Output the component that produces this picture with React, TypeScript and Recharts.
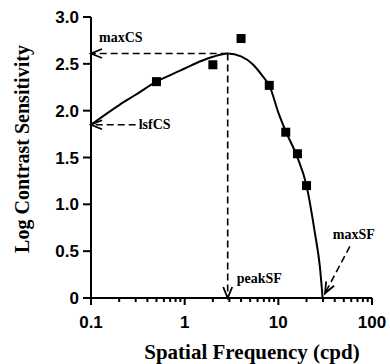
import React from 'react';
import {
  ComposedChart, Line, Scatter, XAxis, YAxis, ReferenceLine, ReferenceDot, Label,
} from 'recharts';

// ---- data ----
// measured points (spatial frequency, log contrast sensitivity)
const pointSF = [0.5, 2, 4, 8, 12, 16, 20];
const pointCS = [2.31, 2.49, 2.77, 2.27, 1.77, 1.54, 1.2];

// fitted curve
const curveSF = [0.1, 0.2, 0.3, 0.5, 0.7, 1, 1.5, 2, 2.88, 4, 5.4, 6.9, 8, 10, 12, 16, 20, 24.6, 27.8, 29.7];
const curveCS = [1.85, 2.06, 2.17, 2.31, 2.38, 2.45, 2.53, 2.575, 2.61, 2.58, 2.49, 2.36, 2.27, 1.98, 1.78, 1.5, 1.2, 0.69, 0.33, 0];

// key parameters
const peakSF = 2.88;
const maxCS = 2.61;
const lsfCS = 1.85;
const maxSF = 29.7;
const lsfArrowStart = 0.3;
const maxSFArrowTail = { sf: 58, cs: 0.55 };

// axes
const xMajorTicks = [0.1, 1, 10, 100];
const xMajorLabels = ['0.1', '1', '10', '100'];
const xMinorTicks = [0.2, 0.3, 0.4, 0.5, 0.6, 0.7, 0.8, 0.9, 2, 3, 4, 5, 6, 7, 8, 9, 20, 30, 40, 50, 60, 70, 80, 90];
const yTicks = [0, 0.5, 1, 1.5, 2, 2.5, 3];
const yTickLabels = ['0', '0.5', '1.0', '1.5', '2.0', '2.5', '3.0'];

const xTitle = 'Spatial Frequency (cpd)';
const yTitle = 'Log Contrast Sensitivity';
const annotations = { maxCS: 'maxCS', lsfCS: 'lsfCS', peakSF: 'peakSF', maxSF: 'maxSF' };

const curveData = curveSF.map((sf, i) => ({ sf, cs: curveCS[i] }));
const pointData = pointSF.map((sf, i) => ({ sf, cs: pointCS[i] }));
const allXTicks = [...xMajorTicks, ...xMinorTicks].sort((a, b) => a - b);

const SANS = '"Liberation Sans", Arial, sans-serif';
const SERIF = '"Liberation Serif", "Times New Roman", serif';

const XTick = (props: any) => {
  const { x, y, payload } = props;
  const idx = xMajorTicks.indexOf(payload.value);
  const major = idx >= 0;
  return (
    <g>
      <line x1={x} x2={x} y1={y} y2={y + (major ? 7 : 4)} stroke="#000" strokeWidth={2} />
      {major && (
        <text x={x} y={y + 30} textAnchor="middle" fontFamily={SANS} fontWeight="bold" fontSize={17} fill="#000">
          {xMajorLabels[idx]}
        </text>
      )}
    </g>
  );
};

const SquareDot = (props: any) => {
  const { cx, cy } = props;
  if (cx == null || cy == null) return null;
  return <rect x={cx - 4.5} y={cy - 4.5} width={9} height={9} fill="#000" />;
};

const arrowHead = (angleDeg: number) => (props: any) => {
  const { cx, cy } = props;
  if (cx == null || cy == null) return null;
  const L = 11;
  const W = 4.5;
  const a = (angleDeg * Math.PI) / 180;
  const ux = Math.cos(a);
  const uy = Math.sin(a);
  const px = -uy;
  const py = ux;
  const b1x = cx - ux * L + px * W;
  const b1y = cy - uy * L + py * W;
  const b2x = cx - ux * L - px * W;
  const b2y = cy - uy * L - py * W;
  return (
    <path d={`M${b1x},${b1y} L${cx},${cy} L${b2x},${b2y}`} fill="none" stroke="#000" strokeWidth={1.8} />
  );
};

const textAt = (label: string, dx: number, dy: number) => (props: any) => {
  const { cx, cy } = props;
  if (cx == null || cy == null) return null;
  return (
    <text x={cx + dx} y={cy + dy} fontFamily={SERIF} fontWeight="bold" fontSize={14} fill="#000" dominantBaseline="central">
      {label}
    </text>
  );
};

const dash = '7 4';

export default function App() {
  return (
    <div style={{ position: 'absolute', left: 0, top: 0, width: 390, height: 364, background: '#fff' }}>
      <ComposedChart width={390} height={364} margin={{ top: 17, right: 18, bottom: 26, left: 31 }}>
        <XAxis
          dataKey="sf"
          type="number"
          scale="log"
          domain={[0.1, 100]}
          allowDataOverflow
          ticks={allXTicks}
          interval={0}
          tick={<XTick />}
          tickLine={false}
          tickSize={0}
          tickMargin={0}
          height={40}
          axisLine={{ stroke: '#000', strokeWidth: 2 }}
        >
          <Label
            content={() => (
              <text x={252} y={352} textAnchor="middle" dominantBaseline="central" fontFamily={SERIF} fontWeight="bold" fontSize={21} fill="#000">
                {xTitle}
              </text>
            )}
          />
        </XAxis>
        <YAxis
          dataKey="cs"
          type="number"
          domain={[0, 3]}
          ticks={yTicks}
          interval={0}
          width={60}
          tickSize={8}
          tickMargin={4}
          tickFormatter={(v: number) => yTickLabels[yTicks.indexOf(v)]}
          tick={{ fill: '#000', fontFamily: SANS, fontWeight: 'bold', fontSize: 17 }}
          tickLine={{ stroke: '#000', strokeWidth: 2 }}
          axisLine={{ stroke: '#000', strokeWidth: 2 }}
        >
          <Label
            content={() => (
              <text x={22} y={149} transform="rotate(-90 22 149)" textAnchor="middle" dominantBaseline="central" fontFamily={SERIF} fontWeight="bold" fontSize={20} fill="#000">
                {yTitle}
              </text>
            )}
          />
        </YAxis>

        {/* dashed guide lines */}
        <ReferenceLine segment={[{ x: peakSF, y: maxCS }, { x: 0.1, y: maxCS }]} stroke="#000" strokeWidth={1.6} strokeDasharray={dash} />
        <ReferenceLine segment={[{ x: peakSF, y: maxCS }, { x: peakSF, y: 0 }]} stroke="#000" strokeWidth={1.6} strokeDasharray={dash} />
        <ReferenceLine segment={[{ x: lsfArrowStart, y: lsfCS }, { x: 0.1, y: lsfCS }]} stroke="#000" strokeWidth={1.6} strokeDasharray={dash} />
        <ReferenceLine segment={[{ x: maxSFArrowTail.sf, y: maxSFArrowTail.cs }, { x: maxSF * 1.06, y: 0.05 }]} stroke="#000" strokeWidth={1.6} strokeDasharray={dash} />

        <Line
          data={curveData}
          dataKey="cs"
          type="monotone"
          stroke="#000"
          strokeWidth={2}
          dot={false}
          activeDot={false}
          isAnimationActive={false}
        />
        <Scatter data={pointData} dataKey="cs" shape={<SquareDot />} isAnimationActive={false} />

        {/* arrowheads */}
        <ReferenceDot x={0.1} y={maxCS} r={0} shape={arrowHead(180)} ifOverflow="visible" />
        <ReferenceDot x={peakSF} y={0} r={0} shape={arrowHead(90)} ifOverflow="visible" />
        <ReferenceDot x={0.1} y={lsfCS} r={0} shape={arrowHead(180)} ifOverflow="visible" />
        <ReferenceDot x={maxSF * 1.06} y={0.05} r={0} shape={arrowHead(118)} ifOverflow="visible" />

        {/* annotation texts */}
        <ReferenceDot x={0.1} y={maxCS} r={0} shape={textAt(annotations.maxCS, 8, -16)} ifOverflow="visible" />
        <ReferenceDot x={lsfArrowStart} y={lsfCS} r={0} shape={textAt(annotations.lsfCS, 3, 0)} ifOverflow="visible" />
        <ReferenceDot x={peakSF} y={0} r={0} shape={textAt(annotations.peakSF, 9, -20)} ifOverflow="visible" />
        <ReferenceDot x={maxSFArrowTail.sf} y={maxSFArrowTail.cs} r={0} shape={textAt(annotations.maxSF, -17, -12)} ifOverflow="visible" />
      </ComposedChart>
    </div>
  );
}
